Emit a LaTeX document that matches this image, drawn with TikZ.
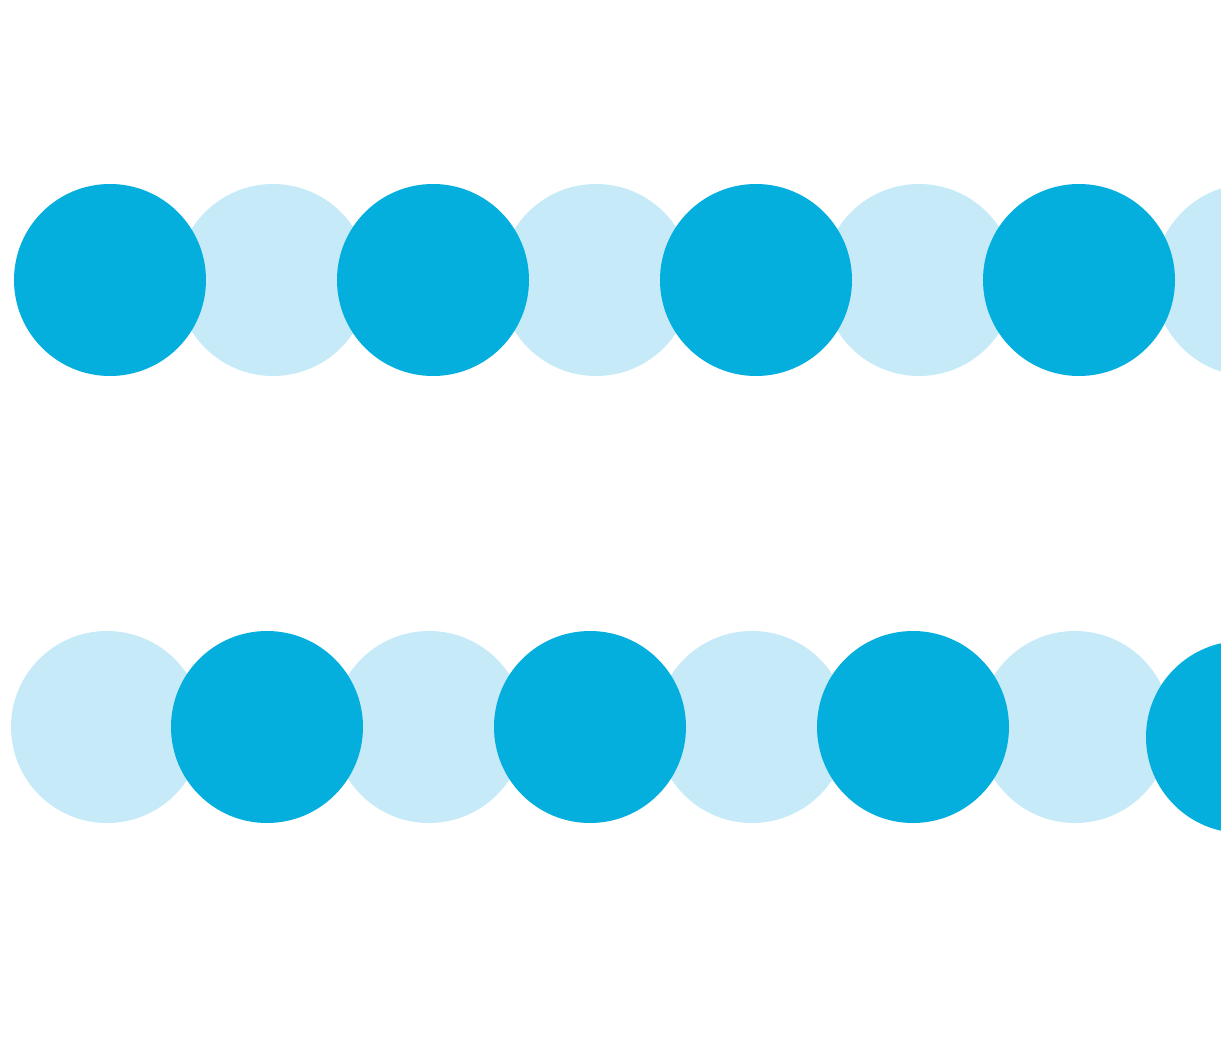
\documentclass[tikz,border=0pt]{standalone}
\definecolor{beaddark}{HTML}{04AFDE}
\definecolor{beadlight}{HTML}{C7EAF8}
\tikzset{
  darkbead/.style={fill=beaddark},
  lightbead/.style={fill=beadlight}
}
\begin{document}
\begin{tikzpicture}[x=0.02cm,y=-0.02cm]
\useasboundingbox (0,0) rectangle (1221,1048);
\clip (0,0) rectangle (1221,1048);
% top row, light beads under dark ones
\foreach \x in {273,596,919,1250}
  \fill[lightbead] (\x,280) circle (96);
\foreach \x in {110,433,756,1079}
  \fill[darkbead] (\x,280) circle (96);
% bottom row
\foreach \x in {107,429,752,1075}
  \fill[lightbead] (\x,727) circle (96);
\foreach \x in {267,590,913}
  \fill[darkbead] (\x,727) circle (96);
\fill[darkbead] (1242,737) circle (96);
\end{tikzpicture}
\end{document}
